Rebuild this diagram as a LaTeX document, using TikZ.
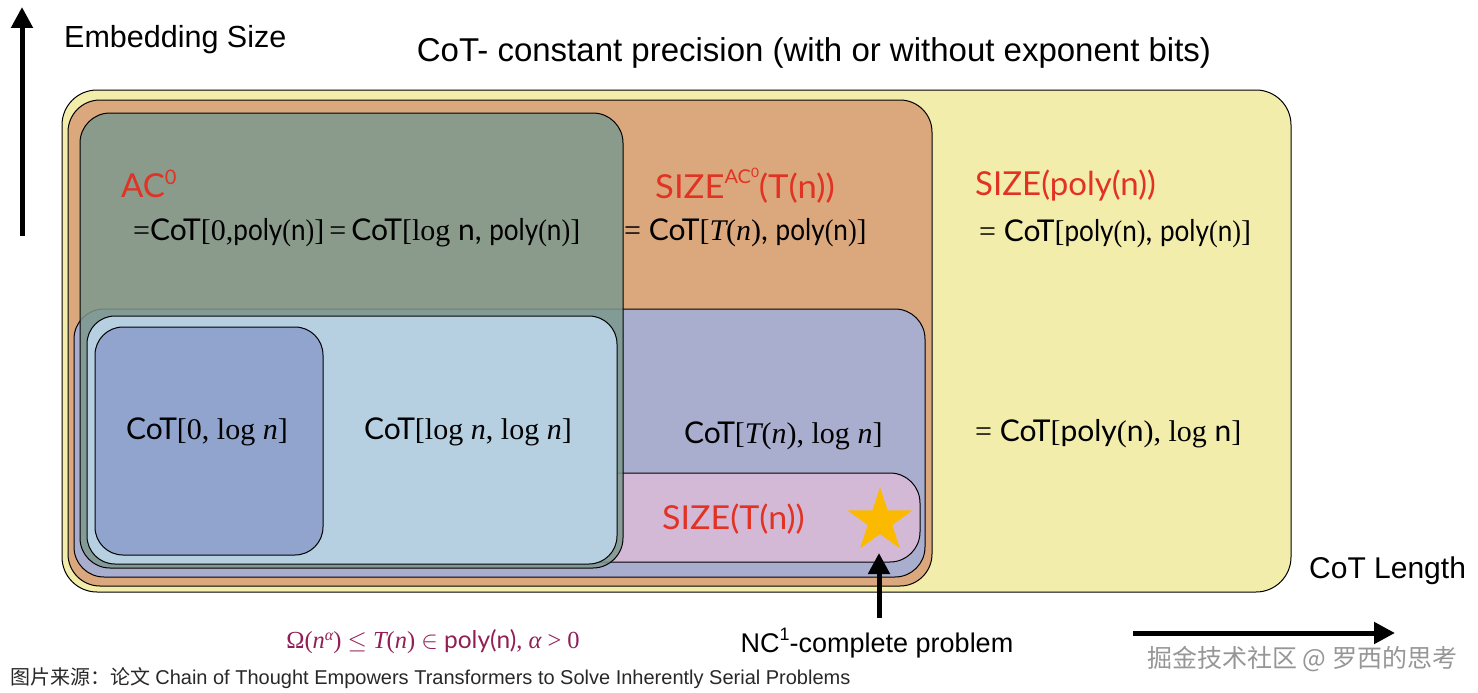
\documentclass[tikz,border=0pt]{standalone}
\usepackage{fontspec}
\setmainfont{Lato}
\newfontfamily\tmf{Liberation Serif}
\newfontfamily\hv{Liberation Sans}
\newfontfamily\cjk{Noto Sans CJK SC}
\usetikzlibrary{arrows.meta,shapes.geometric}
\definecolor{cyel}{RGB}{243,237,171}
\definecolor{corange}{RGB}{219,167,124}
\definecolor{cgray}{RGB}{124,152,142}
\definecolor{clav}{RGB}{170,174,206}
\definecolor{clblue}{RGB}{182,208,226}
\definecolor{cdblue}{RGB}{145,164,206}
\definecolor{cpink}{RGB}{212,185,215}
\definecolor{cred}{RGB}{225,50,35}
\definecolor{cstar}{RGB}{251,186,0}
\definecolor{ccond}{RGB}{145,30,85}
\definecolor{ccap}{RGB}{40,40,40}
\definecolor{cwm}{RGB}{150,150,150}
\newcommand\sr[1]{{\tmf #1}}
\newcommand\si[1]{{\tmf\itshape #1}}
\newcommand\polyn{\scalebox{0.87}[1]{poly\sr{(}n\sr{)}}}
\tikzset{
  region/.style={draw=black, line width=1pt, rounded corners=#1},
  region/.default=30pt,
  boxtext/.style={font=\fontsize{30}{34}\selectfont, inner sep=0pt, anchor=base west},
  redtext/.style={font=\fontsize{33}{36}\selectfont, inner sep=0pt, anchor=base west, text=cred},
  bigarrow/.style={line width=5pt, -{Triangle[width=21pt,length=21pt]}},
  hvtext/.style={font=\hv\fontsize{#1}{#1}\selectfont, inner sep=0pt},
}
\begin{document}
\begin{tikzpicture}[x=1pt,y=-1pt]
\useasboundingbox (0,0) rectangle (1478,693);
% regions
\draw[region=35pt, fill=cyel] (62,90) rectangle (1291,592);
\draw[region=32pt, fill=corange] (68,100) rectangle (932,586);
\draw[region=30pt, fill=clav] (74,309) rectangle (925,577);
\draw[region=30pt, fill=cpink] (560,473) rectangle (920,562);
\draw[region=30pt, fill=cgray, fill opacity=0.85] (80,113) rectangle (623,568);
\draw[region=28pt, fill=clblue] (87,316) rectangle (617,564);
\draw[region=28pt, fill=cdblue] (95,327) rectangle (323,555);
% star
\node[star, star points=5, star point ratio=2.618, fill=cstar, draw=none, minimum size=68pt, inner sep=0pt] (star) at (880,521) {};
% texts in regions
\node[redtext] (ac0) at (121,197) {AC\raisebox{0.75ex}{\fontsize{20}{20}\selectfont 0}};
\node[boxtext] (ac0eq) at (133,240) {\sr{=}CoT\sr{[0,}\polyn\sr{]\,=\,}CoT\sr{[log}~n, \polyn\sr{]}};
\node[redtext] (sizeac) at (655,198) {\scalebox{1.05}[1]{SIZE\raisebox{0.85ex}{\fontsize{19}{19}\selectfont AC\raisebox{0.7ex}{\fontsize{13}{13}\selectfont 0}}(T(n))}};
\node[boxtext] (sizeaceq) at (624,240) {\sr{=} CoT\sr{[}\si{T}\sr{(}\si{n}\sr{)}, \polyn\sr{]}};
\node[redtext] (sizepoly) at (975,195) {SIZE(poly(n))};
\node[boxtext] (sizepolyeq) at (979,241) {\sr{=} CoT\sr{[}\polyn, \polyn\sr{]}};
\node[boxtext] (cot0) at (126,439) {CoT\sr{[0, log} \si{n}\sr{]}};
\node[boxtext] (cotlog) at (364,439) {CoT\sr{[log} \si{n}\sr{, log} \si{n}\sr{]}};
\node[boxtext] (cotT) at (684,443) {CoT\sr{[}\si{T}\sr{(}\si{n}\sr{), log} \si{n}\sr{]}};
\node[boxtext] (polylog) at (975,441) {\sr{=} CoT\sr{[}poly\sr{(}n\sr{), log} n\sr{]}};
\node[redtext] (sizeT) at (662,529) {\scalebox{1.03}[1]{SIZE(T(n))}};
% outer texts
\node[hvtext=30.5, anchor=base west] (emb) at (64,48) {Embedding Size};
\node[hvtext=33, anchor=base] (title) at (814,62) {CoT- constant precision (with or without exponent bits)};
\node[hvtext=30, anchor=base west] (cotlen) at (1309,578) {CoT Length};
\node[hvtext=27, anchor=base] (nc) at (877,652) {NC\raisebox{0.8ex}{\fontsize{18}{18}\selectfont 1}-complete problem};
\node[font=\tmf\fontsize{24.5}{24.5}\selectfont, text=ccond, inner sep=0pt, anchor=base] (cond) at (433,648) {Ω(\si{n}\raisebox{0.7ex}{\fontsize{16}{16}\selectfont\si{α}}) $\leq$ \si{T}(\si{n}) $\in$ {\fontspec{Lato}poly(n)}, \si{α} > 0};
\node[font=\fontsize{20}{20}\selectfont, text=ccap, inner sep=0pt, anchor=base west] (cap) at (10,684) {{\cjk 图片来源：论文} {\hv Chain of Thought Empowers Transformers to Solve Inherently Serial Problems}};
\node[font=\cjk\fontsize{25}{25}\selectfont, text=cwm, inner sep=0pt, anchor=base west] (wm) at (1147,667) {掘金技术社区 @ 罗西的思考};
% arrows
\coordinate (ybot) at (22,236);
\coordinate (ytop) at (22,7);
\draw[bigarrow] (ybot) -- (ytop);
\coordinate (xl) at (1133,633);
\coordinate (xr) at (1395,633);
\draw[bigarrow] (xl) -- (xr);
\coordinate (ncs) at (879,618);
\coordinate (nct) at (879,553);
\draw[bigarrow] (ncs) -- (nct);
\end{tikzpicture}
\end{document}
